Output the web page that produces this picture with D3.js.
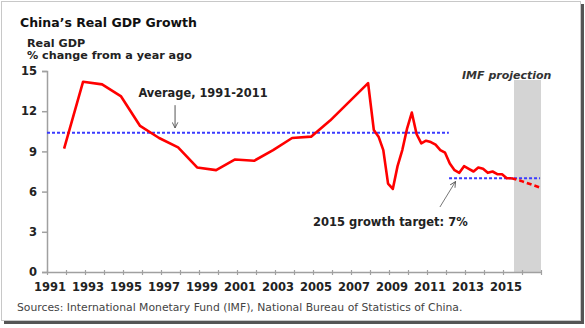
<!DOCTYPE html>
<html><head><meta charset="utf-8">
<script src="https://cdn.jsdelivr.net/npm/d3@7"></script>
<style>
html,body{margin:0;padding:0;background:#fff;}
svg{display:block;}
text{font-family:"DejaVu Sans",Verdana,sans-serif;}
</style></head>
<body>
<svg id="chart" width="585" height="328"></svg>
<script>
// ---- data ----
const annualYears = [1991,1992,1993,1994,1995,1996,1997,1998,1999,2000,2001,2002,2003,2004,2005,2006,2007];
const annualGrowth = [9.2,14.2,14.0,13.1,10.9,10.0,9.3,7.8,7.6,8.4,8.3,9.1,10.0,10.1,11.3,12.7,14.1];
const quarterPeriods = ["2008Q1","2008Q2","2008Q3","2008Q4","2009Q1","2009Q2","2009Q3","2009Q4",
  "2010Q1","2010Q2","2010Q3","2010Q4","2011Q1","2011Q2","2011Q3","2011Q4",
  "2012Q1","2012Q2","2012Q3","2012Q4","2013Q1","2013Q2","2013Q3","2013Q4",
  "2014Q1","2014Q2","2014Q3","2014Q4","2015Q1","2015Q2"];
const quarterGrowth = [10.6,10.1,9.1,6.6,6.2,7.9,9.1,10.7,
  11.9,10.3,9.6,9.8,9.7,9.5,9.1,8.9,
  8.1,7.6,7.4,7.9,7.7,7.5,7.8,7.7,
  7.4,7.5,7.3,7.3,7.0,7.0];
const projPeriods = ["2015Q2","2015Q4","2016Q4"];
const projGrowth = [7.0,6.8,6.3];
const averageValue = 10.4;       // Average, 1991-2011
const targetValue = 7.0;         // 2015 growth target
const xTickLabels = ["1991","1993","1995","1997","1999","2001","2003","2005","2007","2009","2011","2013","2015"];
const yTicks = [0,3,6,9,12,15];

// ---- helpers ----
function toTime(p){
  p = String(p);
  if (p.includes("Q")) { const [y,q] = p.split("Q"); return +y + (+q)*0.25 - 0.05; }
  return +p + 0.9;
}

const svg = d3.select("#chart");

// frame with shadow
svg.append("rect").attr("x",581).attr("y",4).attr("width",3).attr("height",320).attr("fill","#555");
svg.append("rect").attr("x",4).attr("y",321).attr("width",580).attr("height",3).attr("fill","#555");
svg.append("rect").attr("x",1.5).attr("y",1.5).attr("width",579).attr("height",319)
  .attr("fill","#fff").attr("stroke","#c8c8c8").attr("stroke-width",1);

const x = d3.scaleLinear().domain([1991,2017]).range([47,541]);
const y = d3.scaleLinear().domain([0,15]).range([272,71]);

// projection band
svg.append("rect")
  .attr("x", x(2015.58)).attr("y", 80)
  .attr("width", x(2017)-x(2015.58)).attr("height", y(0)-80)
  .attr("fill","#d4d4d4");

// axes
const yAxis = d3.axisLeft(y).tickValues(yTicks).tickSize(5).tickFormat(d3.format("d"));
const gy = svg.append("g").attr("transform",`translate(${x(1991)},0)`).call(yAxis);
gy.select(".domain").attr("stroke","#a0a0a0").attr("stroke-width",1.5);
gy.selectAll(".tick line").attr("stroke","#a0a0a0").attr("stroke-width",1.5);
gy.selectAll(".tick text").attr("x",-10).attr("font-size","11.5px").attr("font-weight","bold").attr("fill","#222")
  .style("font-family",'"DejaVu Sans",Verdana,sans-serif');

const tickYears = d3.range(1991,2018);
const xAxis = d3.axisBottom(x).tickValues(tickYears).tickSize(3).tickSizeOuter(0).tickFormat("");
const gx = svg.append("g").attr("transform",`translate(0,${y(0)})`).call(xAxis);
gx.select(".domain").attr("stroke","#a0a0a0").attr("stroke-width",1.5);
gx.selectAll(".tick line").attr("stroke","#a0a0a0").attr("stroke-width",1.2).attr("y1",-2);

svg.append("g").selectAll("text").data(xTickLabels).join("text")
  .attr("x", d => x(+d) + 3).attr("y", 291)
  .attr("text-anchor","middle").attr("font-size","11.5px").attr("font-weight","bold").attr("fill","#222")
  .text(d => d);

// reference lines
svg.append("line")
  .attr("x1", x(1991)).attr("x2", x(2012.15))
  .attr("y1", y(averageValue)).attr("y2", y(averageValue))
  .attr("stroke","#3b3bff").attr("stroke-width",2).attr("stroke-dasharray","3,2");
svg.append("line")
  .attr("x1", x(2012.16)).attr("x2", x(2016.95))
  .attr("y1", y(targetValue)).attr("y2", y(targetValue))
  .attr("stroke","#3b3bff").attr("stroke-width",2).attr("stroke-dasharray","3,2");

// series
const hist = annualYears.map((yr,i)=>({t:toTime(yr), v:annualGrowth[i]}))
  .concat(quarterPeriods.map((p,i)=>({t:toTime(p), v:quarterGrowth[i]})));
const proj = projPeriods.map((p,i)=>({t:toTime(p), v:projGrowth[i]}));
const line = d3.line().x(d=>x(d.t)).y(d=>y(d.v));
svg.append("path").datum(hist).attr("d",line).attr("fill","none")
  .attr("stroke","#ff0000").attr("stroke-width",2.6).attr("stroke-linejoin","round");
svg.append("path").datum(proj).attr("d",line).attr("fill","none")
  .attr("stroke","#ff0000").attr("stroke-width",2.6).attr("stroke-dasharray","5,3");

// arrows
const defs = svg.append("defs");
defs.append("marker").attr("id","arr").attr("viewBox","0 0 10 10").attr("refX",9).attr("refY",5)
  .attr("markerWidth",7).attr("markerHeight",7).attr("orient","auto-start-reverse")
  .append("path").attr("d","M1,1 L9,5 L1,9").attr("fill","none").attr("stroke","#555").attr("stroke-width",1.3);
svg.append("line").attr("x1",x(1997.74)).attr("x2",x(1997.74)).attr("y1",y(12.45)).attr("y2",y(10.75))
  .attr("stroke","#555").attr("stroke-width",1).attr("marker-end","url(#arr)");
svg.append("line").attr("x1",x(2011.68)).attr("x2",x(2012.5)).attr("y1",y(4.85)).attr("y2",y(6.75))
  .attr("stroke","#777").attr("stroke-width",1).attr("marker-end","url(#arr)");

// texts
svg.append("text").attr("x",20).attr("y",27).attr("font-size","12.5px").attr("font-weight","bold").attr("fill","#111")
  .text("China’s Real GDP Growth");
svg.append("text").attr("x",27).attr("y",47).attr("font-size","11.2px").attr("font-weight","bold").attr("fill","#222")
  .text("Real GDP");
svg.append("text").attr("x",27).attr("y",59).attr("font-size","11.2px").attr("font-weight","bold").attr("fill","#222")
  .text("% change from a year ago");
svg.append("text").attr("x",203).attr("y",97).attr("text-anchor","middle").attr("font-size","11.4px").attr("font-weight","bold").attr("fill","#222")
  .text("Average, 1991-2011");
svg.append("text").attr("x",313).attr("y",226).attr("font-size","11.5px").attr("font-weight","bold").attr("fill","#222")
  .text("2015 growth target: 7%");
svg.append("text").attr("x",462).attr("y",79).attr("font-size","11px").attr("font-weight","bold").attr("font-style","italic").attr("fill","#333")
  .text("IMF projection");
svg.append("text").attr("x",17).attr("y",311).attr("font-size","10.8px").attr("fill","#444")
  .text("Sources: International Monetary Fund (IMF), National Bureau of Statistics of China.");
</script>
</body></html>
